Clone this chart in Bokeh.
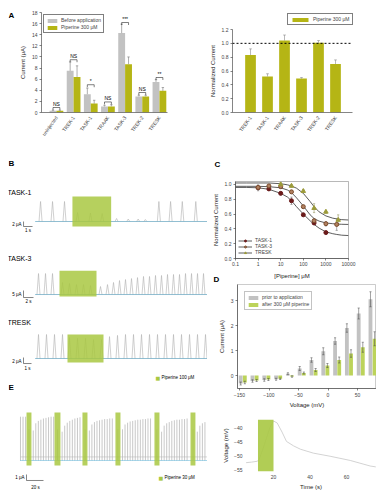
from bokeh.plotting import figure
from bokeh.layouts import column, row, Spacer
from bokeh.models import (Range1d, Label, Legend, LegendItem, Span, BoxAnnotation,
                          FixedTicker, CustomJSTickFormatter)
from bokeh.embed import file_html
from bokeh.resources import INLINE
from bokeh.core.properties import value

FONT = "Liberation Sans"
GRAY = "#c2c2c2"
OLIVE = "#b5b515"
LIME = "#a9c842"
DLIME = "#bcd35a"
SPIKE = "#b0b0b0"
BASE = "#45a9d4"

# ---------------- Panel A (left) ----------------
cats_a = ["uninjected", "TREK-1", "TASK-1", "TRAAK", "TASK-3", "TREK-2", "TRESK"]
before_a = [0.3, 7.5, 3.3, 1.1, 14.3, 2.9, 5.5]
before_err = [0.1, 1.6, 1.1, 0.2, 1.6, 0.2, 0.4]
piper_a = [0.3, 6.4, 1.6, 1.1, 8.7, 2.9, 3.9]
piper_err = [0.1, 2.0, 0.6, 0.3, 1.3, 0.2, 0.6]
sig_labels = ["NS", "NS", "*", "NS", "***", "NS", "**"]
sig_height = [0.9, 9.5, 5.0, 1.9, 16.2, 3.6, 6.3]
ticks_a = [0, 2, 4, 6, 8, 10, 12, 14, 16, 18]

# ---------------- Panel A (right) ----------------
cats_n = ["TREK-1", "TASK-1", "TRAAK", "TASK-3", "TREK-2", "TRESK"]
norm_vals = [0.83, 0.52, 1.04, 0.49, 1.01, 0.70]
norm_err = [0.09, 0.04, 0.08, 0.015, 0.03, 0.06]
ticks_n = [0.0, 0.2, 0.4, 0.6, 0.8, 1.0, 1.2]

# ---------------- Panel B traces ----------------
t1_t = [0.56, 1.89, 3.22, 4.67, 6.1, 7.4, 9.0, 10.3, 11.4, 12.2, 13.7, 15.0, 16.3, 17.8]
t1_amp = [8, 8, 8, 3.6, 3.4, 3.2, 1.2, 1.0, 1.0, 0.8, 8, 8, 8, 8]
t1_end = 19.2
t1_pip = (4.1, 8.4)

t3_t = [0.6, 2.0, 3.4, 5.4, 6.8, 8.2, 9.6, 11.0, 13.0, 14.4, 15.6, 16.8, 18.0, 19.2,
        20.4, 21.6, 22.8, 24.0, 25.2, 26.4, 27.6, 28.8, 30.0, 31.2, 32.4, 33.6]
t3_amp = [15, 15, 15, 8.6, 7.9, 7.1, 7.1, 6.4, 5.7, 7.1, 8.6, 10.0, 10.7, 11.4,
          12.1, 12.9, 12.9, 13.6, 13.6, 14.3, 14.3, 14.3, 15, 15, 15, 15]
t3_end = 34.5
t3_pip = (4.8, 12.2)

tr_t = [0.375, 1.375, 2.375, 3.375, 4.25, 5.25, 6.25, 7.25, 8.25, 9.25, 10.25, 11.25,
        12.25, 13.25, 14.25, 15.25, 16.25, 17.25, 18.25, 19.25, 20.25, 21.25]
tr_amp = [8, 8, 8, 8, 7, 6.7, 6.7, 6.3, 6.3, 7.3, 7.7, 8, 8, 8, 8, 8, 8, 8, 8, 8, 8, 8]
tr_end = 21.6
tr_pip = (4.0, 8.5)

# ---------------- Panel C ----------------
conc_ticks = [0.1, 1, 10, 100, 1000, 10000]
curve_x = [0.1, 0.3, 1, 3, 10, 20, 30, 50, 100, 200, 300, 500, 1000, 2000, 3000, 5000, 10000]
task1_curve = [0.96, 0.96, 0.955, 0.935, 0.88, 0.83, 0.78, 0.70, 0.60, 0.51, 0.46, 0.41, 0.36, 0.335, 0.325, 0.315, 0.31]
task3_curve = [0.975, 0.975, 0.975, 0.97, 0.955, 0.925, 0.89, 0.82, 0.71, 0.59, 0.54, 0.505, 0.48, 0.47, 0.465, 0.462, 0.46]
tresk_curve = [1.02, 1.02, 1.02, 1.02, 1.01, 0.995, 0.98, 0.95, 0.88, 0.77, 0.70, 0.63, 0.575, 0.545, 0.535, 0.525, 0.52]
task1_x = [1, 3, 10, 30, 100, 300, 1000]
task1_y = [0.955, 0.94, 0.88, 0.78, 0.59, 0.48, 0.35]
task1_e = [0.04, 0.02, 0.02, 0.05, 0.02, 0.02, 0.015]
task3_x = [1, 3, 10, 30, 100, 300, 1000, 3000]
task3_y = [0.96, 0.98, 0.97, 0.90, 0.70, 0.51, 0.47, 0.46]
task3_e = [0.02, 0.015, 0.02, 0.02, 0.02, 0.03, 0.03, 0.08]
tresk_x = [10, 30, 100, 300, 1000, 3500]
tresk_y = [1.0, 0.98, 0.91, 0.68, 0.63, 0.52]
tresk_e = [0.03, 0.02, 0.02, 0.06, 0.02, 0.07]

# ---------------- Panel D ----------------
volt = [-140, -120, -100, -80, -60, -40, -20, 0, 20, 40, 60, 80]
prior = [-0.32, -0.22, -0.18, -0.15, 0.07, 0.28, 0.62, 0.97, 1.38, 1.90, 2.48, 3.05]
prior_err = [0.06, 0.05, 0.05, 0.04, 0.04, 0.08, 0.09, 0.14, 0.13, 0.17, 0.22, 0.30]
after = [-0.28, -0.20, -0.16, -0.13, -0.04, 0.10, 0.22, 0.40, 0.62, 0.88, 1.13, 1.47]
after_err = [0.05, 0.04, 0.04, 0.03, 0.03, 0.04, 0.06, 0.08, 0.12, 0.15, 0.20, 0.28]
volt_ticks = [-150, -100, -50, 0, 50]
curr_ticks = [0, 1, 2, 3]

# ---------------- Panel E ----------------
e_spike_t = [0, 3, 6, 10, 15, 18, 21, 24, 27, 30, 33, 36, 39, 43.5,
             49, 52, 55, 58, 61, 64, 67, 70, 76,
             81, 84, 87, 90, 93, 96, 99, 102, 105, 108, 114.5,
             120, 123, 126, 129, 132, 135, 138, 141, 144, 147, 150, 153, 160.5,
             166, 169, 172, 175, 178, 181, 184, 187, 190, 193, 196, 203,
             208, 211, 214, 217]
e_spike_amp = [7.3, 7.3, 7.3, 5.2, 5.0, 6.2, 6.6, 6.8, 7.0, 7.1, 7.2, 7.3, 7.3, 5.2,
               4.8, 5.8, 6.3, 6.6, 6.8, 7.0, 7.1, 7.2, 5.2,
               5.0, 6.0, 6.4, 6.6, 6.7, 6.8, 6.9, 6.9, 7.0, 7.0, 5.2,
               5.2, 6.0, 6.3, 6.5, 6.6, 6.7, 6.8, 6.8, 6.9, 6.9, 7.0, 7.0, 5.2,
               4.8, 5.8, 6.2, 6.4, 6.6, 6.7, 6.8, 6.8, 6.9, 6.9, 7.0, 5.2,
               4.8, 5.8, 6.2, 6.4]
e_end = 225
e_pip_start = [7.1, 40.0, 72.9, 111.7, 157.6, 200.0]
e_pip_end = [12.9, 47.0, 78.8, 117.6, 163.5, 205.8]

er_t = [5, 8, 11, 12, 14, 16, 18, 20, 22, 24.7, 27.1, 31, 34.8, 41.9, 51, 62, 73, 76]
er_v = [-52.5, -52.3, -52.0, -51.5, -48, -44, -40, -37.6, -38.3, -41.6, -44.9, -46.5,
        -47.7, -49.1, -50.2, -51.7, -53.7, -54.0]
er_pip = (11.5, 20.0)


# ---------------- helpers ----------------
def fig(w, h, xr, yr, l=0, r=0, t=0, b=0, axes=True, **kw):
    extra = {} if axes else dict(x_axis_location=None, y_axis_location=None)
    p = figure(width=w, height=h, x_range=Range1d(*xr), y_range=Range1d(*yr),
               output_backend="svg", toolbar_location=None, title=None,
               min_border_left=l, min_border_right=r, min_border_top=t, min_border_bottom=b,
               frame_align=False, **extra, **kw)
    p.outline_line_color = None
    p.grid.visible = False
    return p


def strip(w, h):
    return fig(w, h, (0, w), (0, h), axes=False)


def style_axes(p, tick="5px", lab="6px"):
    for ax in p.axis:
        ax.major_label_text_font = FONT
        ax.major_label_text_font_size = tick
        ax.axis_label_text_font = FONT
        ax.axis_label_text_font_size = lab
        ax.axis_label_text_font_style = "normal"
        ax.axis_label_text_color = "#222222"
        ax.major_tick_out = 2
        ax.major_tick_in = 0
        ax.minor_tick_line_color = None
        ax.axis_line_width = 0.6
        ax.major_tick_line_width = 0.6
        ax.major_label_standoff = 2
        ax.axis_label_standoff = 3
        ax.axis_line_color = "#333333"
        ax.major_tick_line_color = "#333333"


def plab(p, origin, X, Y, text, size="5px", bold=False, align="left", baseline="middle",
         color="black", font=FONT):
    p.add_layout(Label(x=X - origin[0], y=origin[1] - Y, x_units="screen", y_units="screen",
                       text=text, text_font=font, text_font_size=size,
                       text_font_style="bold" if bold else "normal",
                       text_align=align, text_baseline=baseline, text_color=color))


def errbars(p, x, top, err, cap, color="#555555", both=False, logx=False, width=0.6):
    y1 = [t + e for t, e in zip(top, err)]
    y0 = [t - e for t, e in zip(top, err)] if both else list(top)
    p.segment(x0=x, y0=y0, x1=x, y1=y1, line_color=color, line_width=width)
    if logx:
        cx0 = [xi / cap for xi in x]
        cx1 = [xi * cap for xi in x]
    else:
        cx0 = [xi - cap for xi in x]
        cx1 = [xi + cap for xi in x]
    p.segment(x0=cx0, y0=y1, x1=cx1, y1=y1, line_color=color, line_width=width)
    if both:
        p.segment(x0=cx0, y0=y0, x1=cx1, y1=y0, line_color=color, line_width=width)


def small_legend(items, **kw):
    leg = Legend(items=items, padding=2, spacing=1, glyph_width=12, glyph_height=5,
                 label_height=6, label_text_font=FONT, label_text_font_size="5px",
                 label_standoff=3, border_line_color="black", border_line_width=0.5,
                 margin=2, **kw)
    return leg


# ---------------- letter A strip ----------------
sA = strip(8, 142)
plab(sA, (8, 150), 8, 15, "A", size="8px", bold=True)

# ---------------- A left ----------------
pa = fig(176, 142, (-0.87, 6.47), (0, 18), l=24, r=25, t=4, b=38)
xa = list(range(len(cats_a)))
rb = pa.vbar(x=[i - 0.2 for i in xa], top=before_a, width=0.4, fill_color=GRAY, line_color=None)
rp = pa.vbar(x=[i + 0.2 for i in xa], top=piper_a, width=0.4, fill_color=OLIVE, line_color=None)
errbars(pa, [i - 0.2 for i in xa], before_a, before_err, 0.07, color="#777777")
errbars(pa, [i + 0.2 for i in xa], piper_a, piper_err, 0.07, color="#777777")
bx, by = [], []
for i, h in zip(xa, sig_height):
    bx.append([i - 0.2, i - 0.2, i + 0.2, i + 0.2])
    by.append([h - 0.45, h, h, h - 0.45])
pa.multi_line(xs=bx, ys=by, line_color="black", line_width=0.5)
pa.text(x=xa, y=[h + 0.15 for h in sig_height], text=sig_labels, text_font=value(FONT),
        text_font_size="5px", text_align="center", text_baseline="bottom")
style_axes(pa)
pa.xaxis.ticker = FixedTicker(ticks=xa)
pa.xaxis.major_label_overrides = {i: c for i, c in zip(xa, cats_a)}
pa.xaxis.major_label_orientation = 0.95
pa.xaxis.major_tick_line_color = None
pa.yaxis.ticker = FixedTicker(ticks=ticks_a)
pa.yaxis.axis_label = "Current (μA)"
leg = small_legend([LegendItem(label="Before application", renderers=[rb]),
                    LegendItem(label="Piperine 300 μM", renderers=[rp])], location="top_left")
pa.add_layout(leg)

# ---------------- A right: legend strip + plot ----------------
sN = strip(184, 18)
key = sN.vbar(x=[-500], top=[0], width=1, fill_color=OLIVE, line_color=None)
legn = small_legend([LegendItem(label="Piperine 300 μM", renderers=[key])], location=(95, 1))
legn.glyph_width = 20
legn.margin = 0
sN.add_layout(legn)

pn = fig(184, 124, (-1.06, 6.0), (0, 1.2), l=40, r=24, t=3, b=38)
xn = list(range(len(cats_n)))
rn = pn.vbar(x=xn, top=norm_vals, width=0.63, fill_color=OLIVE, line_color=None)
errbars(pn, xn, norm_vals, norm_err, 0.08, color="#888888")
pn.add_layout(Span(location=1.0, dimension="width", line_color="black", line_width=1,
                   line_dash="2 2"))
style_axes(pn)
pn.xaxis.ticker = FixedTicker(ticks=xn)
pn.xaxis.major_label_overrides = {i: c for i, c in zip(xn, cats_n)}
pn.xaxis.major_label_orientation = 0.95
pn.xaxis.major_tick_line_color = None
pn.yaxis.ticker = FixedTicker(ticks=ticks_n)
pn.yaxis.formatter = CustomJSTickFormatter(code="return tick.toFixed(1)")
pn.yaxis.axis_label = "Normalized Current"


# ---------------- B traces ----------------
def trace_fig(h, xr, yr, ts, amps, w, t_end, pip, pip_y):
    p = fig(199, h, xr, yr, axes=False)
    xs = [[t - w, t, t + w] for t in ts]
    ys = [[0, a, 0] for a in amps]
    p.line(x=[0, t_end], y=[0, 0], line_color=SPIKE, line_width=0.6)
    p.multi_line(xs=xs, ys=ys, line_color=SPIKE, line_width=0.6)
    p.line(x=[0, t_end], y=[0, 0], line_color=BASE, line_width=0.9, line_dash="1 1")
    p.quad(left=[pip[0]], right=[pip[1]], bottom=[pip_y[0]], top=[pip_y[1]],
           fill_color=LIME, fill_alpha=0.85, line_color=None)
    return p


def scalebar(p, x0, y0, dx, dy):
    p.line(x=[x0, x0, x0 + dx], y=[y0 + dy, y0, y0], line_color="#333333", line_width=0.6)


O1 = (8, 245)
pb1 = trace_fig(95, (-3.0, 19.1), (-9.6, 28.4), t1_t, t1_amp, 0.17, t1_end, t1_pip, (-2, 10))
scalebar(pb1, -1.33, -2, 1, 2)
plab(pb1, O1, 8, 163, "B", size="8px", bold=True)
plab(pb1, O1, 7, 192, "TASK-1", size="7px")
plab(pb1, O1, 21, 224, "2 μA", size="4.5px", align="right")
plab(pb1, O1, 27.5, 230, "1 s", size="4.5px", align="center")

O3 = (8, 310)
pb3 = trace_fig(65, (-5.4, 34.4), (-11.4, 35), t3_t, t3_amp, 0.3, t3_end, t3_pip, (-1.4, 17))
scalebar(pb3, -2.4, -2.14, 2, 5)
plab(pb3, O3, 7, 258, "TASK-3", size="7px")
plab(pb3, O3, 21, 294, "5 μA", size="4.5px", align="right")
plab(pb3, O3, 28, 301, "2 s", size="4.5px", align="center")

OR = (8, 383)
pbr = trace_fig(73, (-3.375, 21.5), (-8.33, 16), tr_t, tr_amp, 0.19, tr_end, tr_pip, (-1.3, 8))
scalebar(pbr, -1.5, -1.67, 1, 2)
plab(pbr, OR, 7, 322, "TRESK", size="7px")
plab(pbr, OR, 21, 361, "2 μA", size="4.5px", align="right")
plab(pbr, OR, 27, 368, "1 s", size="4.5px", align="center")
plab(pbr, OR, 155, 377, "■", size="5px", color=LIME, font="DejaVu Sans")
plab(pbr, OR, 161, 377, "Piperine 100 μM", size="4.5px")

# ---------------- E left ----------------
OE = (8, 492)
pe = fig(199, 109, (-14.1, 220), (-5.33, 12.83), axes=False)
pe.line(x=[0, e_end], y=[0.6, 0.6], line_color=SPIKE, line_width=0.5)
pe.segment(x0=e_spike_t, y0=[0] * len(e_spike_t), x1=e_spike_t, y1=e_spike_amp,
           line_color=SPIKE, line_width=0.7)
pe.line(x=[0, e_end], y=[0, 0], line_color=BASE, line_width=0.9, line_dash="1 1")
pe.quad(left=e_pip_start, right=e_pip_end, bottom=[-0.83] * len(e_pip_start),
        top=[8.0] * len(e_pip_start), fill_color=LIME, fill_alpha=0.85, line_color=None)
scalebar(pe, 7.06, -3.33, 20, 1)
plab(pe, OE, 8, 387, "E", size="8px", bold=True)
plab(pe, OE, 24, 477, "1 μA", size="4.5px", align="right")
plab(pe, OE, 35, 487, "20 s", size="4.5px", align="center")
plab(pe, OE, 158, 477, "■", size="5px", color=LIME, font="DejaVu Sans")
plab(pe, OE, 164, 477, "Piperine 30 μM", size="4.5px")

# ---------------- C ----------------
sC = strip(169, 29)
plab(sC, (207, 179), 214, 164, "C", size="8px", bold=True)

pc = fig(169, 89, (0.1, 10000), (0, 1.04), l=28, r=28, t=2, b=9, x_axis_type="log")
pc.outline_line_color = "#888888"
pc.outline_line_width = 0.6
C1, C3, CR = "#6a1a1a", "#7b4b2b", "#9c9b3a"
l1 = pc.line(curve_x, task1_curve, line_color="#333333", line_width=0.8)
l3 = pc.line(curve_x, task3_curve, line_color="#333333", line_width=0.8)
lr = pc.line(curve_x, tresk_curve, line_color="#333333", line_width=0.8)
errbars(pc, task1_x, task1_y, task1_e, 1.12, color="#777777", both=True, logx=True)
errbars(pc, task3_x, task3_y, task3_e, 1.12, color="#777777", both=True, logx=True)
errbars(pc, tresk_x, tresk_y, tresk_e, 1.12, color="#999966", both=True, logx=True)
s1 = pc.scatter(task1_x, task1_y, size=4, marker="circle", fill_color=C1, line_color=C1)
s3 = pc.scatter(task3_x, task3_y, size=4, marker="circle", fill_color="#b08060", line_color=C3)
sr = pc.scatter(tresk_x, tresk_y, size=4.5, marker="triangle", fill_color=CR, line_color=CR)
style_axes(pc)
pc.xaxis.ticker = FixedTicker(ticks=conc_ticks)
pc.xaxis.formatter = CustomJSTickFormatter(code="return tick.toString()")
pc.yaxis.ticker = FixedTicker(ticks=ticks_n[:-1])
pc.yaxis.formatter = CustomJSTickFormatter(code="return tick.toFixed(1)")
pc.yaxis.axis_label = "Normalized Current"
pc.xaxis.major_label_standoff = 1
legc = Legend(items=[LegendItem(label="TASK-1", renderers=[l1, s1]),
                     LegendItem(label="TASK-3", renderers=[l3, s3]),
                     LegendItem(label="TRESK", renderers=[lr, sr])],
              location="bottom_left", margin=3, padding=1, spacing=0, glyph_width=14,
              glyph_height=5, label_height=5, label_text_font=FONT, label_text_font_size="5px",
              label_standoff=3, border_line_color=None, background_fill_alpha=0)
pc.add_layout(legc)

# strip carrying the C x-axis title and the D letter
sD = strip(169, 16)
plab(sD, (207, 284), 291.5, 275, "[Piperine] μM", size="6px", align="center", color="#222222")
plab(sD, (207, 284), 213, 279, "D", size="8px", bold=True)

# ---------------- D ----------------
pdd = fig(169, 128, (-153.4, 82.2), (-0.52, 3.64), l=30, r=0, t=0, b=24)
pdd.outline_line_color = "#aaaaaa"
pdd.outline_line_width = 0.6
vg = [v - 8 for v in volt]
vl = [v - 1 for v in volt]
rg = pdd.vbar(x=vg, bottom=0, top=prior, width=6.5, fill_color=GRAY, line_color=None)
rl = pdd.vbar(x=vl, bottom=0, top=after, width=6.5, fill_color=DLIME, line_color=None)
errbars(pdd, vg, prior, prior_err, 1.8, color="#444444", both=True, width=0.5)
errbars(pdd, vl, after, after_err, 1.8, color="#444444", both=True, width=0.5)
style_axes(pdd)
pdd.xaxis.ticker = FixedTicker(ticks=volt_ticks)
pdd.yaxis.ticker = FixedTicker(ticks=curr_ticks)
pdd.xaxis.axis_label = "Voltage (mV)"
pdd.yaxis.axis_label = "Current (μA)"
pdd.xaxis.axis_label_standoff = 2
legd = small_legend([LegendItem(label="prior to application", renderers=[rg]),
                     LegendItem(label="after 300 μM piperine", renderers=[rl])],
                    location=(7, 78))
legd.border_line_color = "#888888"
pdd.add_layout(legd)

# ---------------- E right ----------------
per = fig(169, 80, (4.66, 76.4), (-55.65, -37.07), l=38, r=0, t=7, b=16)
per.line(er_t, er_v, line_color="#c8c8c8", line_width=0.8)
per.add_layout(BoxAnnotation(left=er_pip[0], right=er_pip[1], fill_color=LIME,
                             fill_alpha=0.9, line_color=None))
style_axes(per)
per.xaxis.ticker = FixedTicker(ticks=[20, 40, 60])
per.yaxis.ticker = FixedTicker(ticks=[-40, -45, -50, -55])
for ax in per.axis:
    ax.axis_line_color = None
    ax.major_tick_line_color = None
    ax.major_label_standoff = 1
    ax.axis_label_standoff = 2
per.xaxis.axis_label = "Time (s)"
per.yaxis.axis_label = "Voltage (mV)"

top_row = row(sA, pa, column(sN, pn, spacing=0), spacing=0)
left_col = column(pb1, pb3, pbr, pe, spacing=0)
right_col = column(sC, pc, sD, pdd, per, spacing=0)
body = column(top_row, row(left_col, right_col, spacing=0), spacing=0)
layout = column(Spacer(width=376, height=8),
                row(Spacer(width=8, height=484), body, spacing=0), spacing=0)

open("out.html", "w").write(file_html(layout, INLINE))
